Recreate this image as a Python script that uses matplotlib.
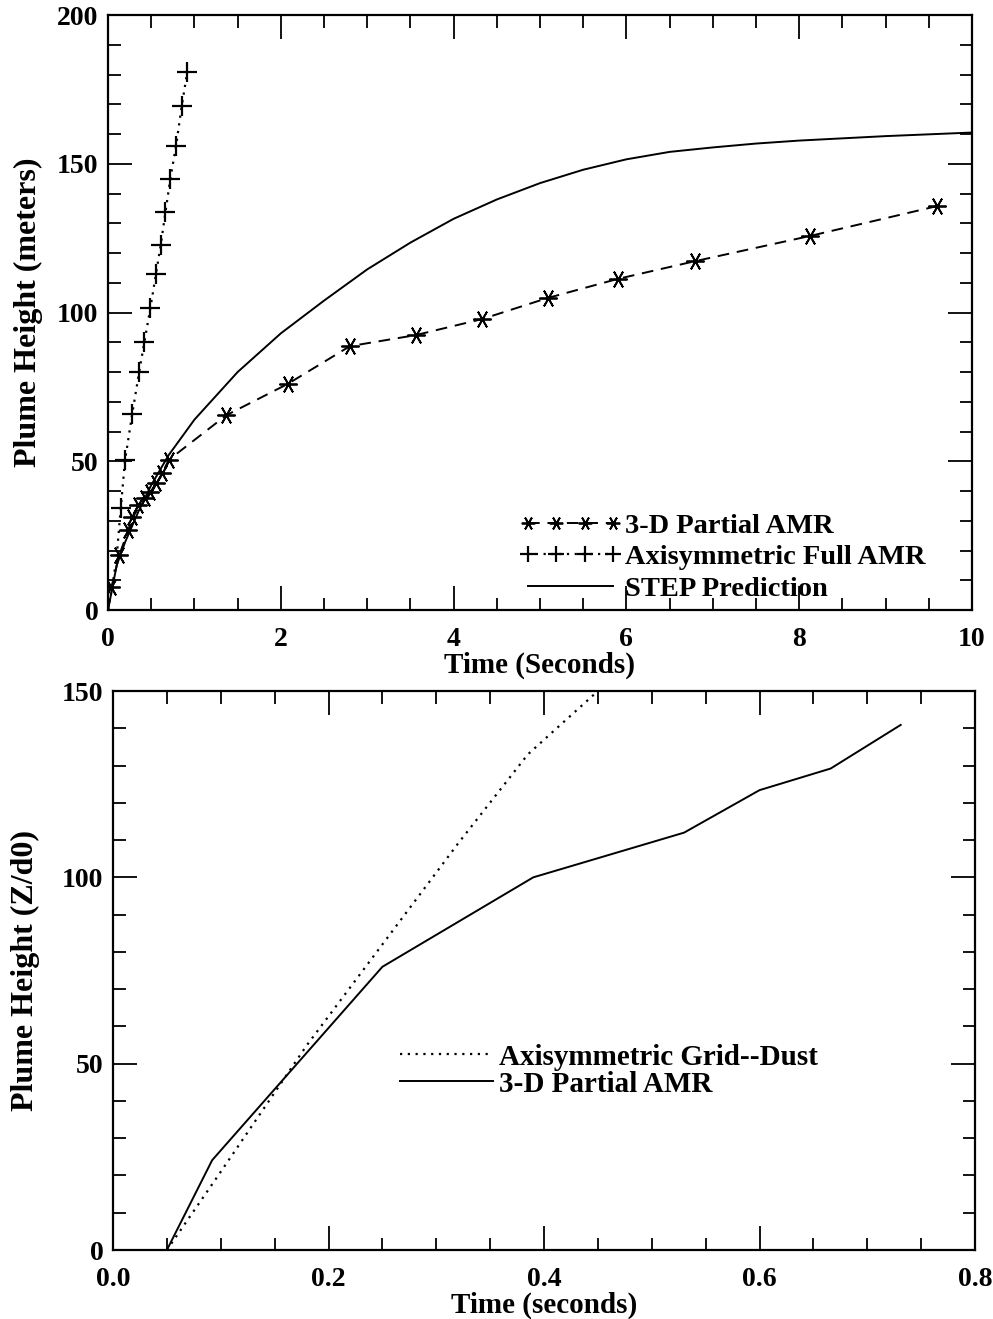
import matplotlib
matplotlib.use("Agg")
import matplotlib.pyplot as plt
from matplotlib.ticker import MultipleLocator, FormatStrFormatter

plt.rcParams['font.family'] = ['Liberation Serif', 'DejaVu Serif']
plt.rcParams['font.weight'] = 'bold'

# ---- Top panel data ----
amr3d_t = [0.0, 0.04, 0.13, 0.235, 0.28, 0.35, 0.43, 0.49, 0.56, 0.63, 0.70,
           1.37, 2.08, 2.80, 3.56, 4.33, 5.09, 5.90, 6.80, 8.12, 9.60]
amr3d_h = [0.0, 7.8, 18.5, 26.9, 31.2, 35.3, 37.5, 39.8, 42.6, 46.0, 50.4,
           65.5, 76.0, 88.7, 92.4, 97.8, 104.9, 111.3, 117.3, 125.7, 135.8]

axi_t = [0.0, 0.05, 0.10, 0.147, 0.197, 0.28, 0.36, 0.42, 0.49, 0.555,
         0.61, 0.665, 0.721, 0.787, 0.853, 0.918]
axi_h = [0.0, 8.0, 18.0, 34.2, 50.4, 65.9, 80.0, 90.0, 101.5, 113.0,
         122.7, 133.8, 145.0, 156.0, 169.4, 181.0]

step_t = [0.0, 0.1, 0.2, 0.35, 0.5, 0.7, 1.0, 1.25, 1.5, 1.75, 2.0, 2.5, 3.0,
          3.5, 4.0, 4.5, 5.0, 5.5, 6.0, 6.5, 7.0, 7.5, 8.0, 9.0, 10.0]
step_h = [0.0, 15, 23, 33, 42, 52, 64, 72, 80, 86.5, 93, 104, 114.5,
          123.5, 131.5, 138, 143.5, 148, 151.5, 154, 155.5, 156.8, 157.8, 159.3, 160.5]

# ---- Bottom panel data ----
dust_t = [0.05, 0.10, 0.18, 0.25, 0.32, 0.385, 0.45]
dust_h = [0.0, 21.0, 55.0, 82.0, 109.0, 133.0, 150.0]

amr_b_t = [0.05, 0.092, 0.25, 0.39, 0.53, 0.60, 0.666, 0.731]
amr_b_h = [0.0, 24.1, 76.0, 100.0, 112.0, 123.4, 129.2, 140.9]

fig = plt.figure(figsize=(9.93, 13.19), dpi=100)

ax1 = fig.add_axes([0.1088, 0.5375, 0.870, 0.4511])
ax2 = fig.add_axes([0.1138, 0.0523, 0.8681, 0.4238])

ast = (6, 2, 90)
ax1.plot(amr3d_t, amr3d_h, color='black', linestyle=(0, (6, 4)), lw=1.4,
         marker=ast, ms=13, mew=1.3, markevery=list(range(1, len(amr3d_t))),
         label='3-D Partial AMR')
ax1.plot(axi_t, axi_h, color='black', linestyle=(0, (1, 2.5)), lw=1.6,
         marker='+', ms=15, mew=1.6, markevery=list(range(3, len(axi_t))),
         label='Axisymmetric Full AMR')
ax1.plot(step_t, step_h, color='black', linestyle='-', lw=1.4,
         label='STEP Prediction')

ax1.set_xlim(0, 10)
ax1.set_ylim(0, 200)
ax1.xaxis.set_major_locator(MultipleLocator(2))
ax1.xaxis.set_minor_locator(MultipleLocator(0.5))
ax1.yaxis.set_major_locator(MultipleLocator(50))
ax1.yaxis.set_minor_locator(MultipleLocator(10))
ax1.set_xlabel('Time (Seconds)', fontsize=21, fontweight='bold', labelpad=0)
ax1.set_ylabel('Plume Height (meters)', fontsize=23, fontweight='bold', labelpad=10)
ax1.legend(loc='lower right', bbox_to_anchor=(0.969, -0.02), frameon=False,
           fontsize=20.5, handlelength=3.6, handletextpad=0.1,
           labelspacing=0.2, borderaxespad=0.3, numpoints=4,
           markerscale=0.75)

ax2.plot(dust_t, dust_h, color='black', linestyle=(0, (1, 2.5)), lw=1.6,
         label='Axisymmetric Grid--Dust')
ax2.plot(amr_b_t, amr_b_h, color='black', linestyle='-', lw=1.4,
         label='3-D Partial AMR')
ax2.set_xlim(0, 0.8)
ax2.set_ylim(0, 150)
ax2.xaxis.set_major_locator(MultipleLocator(0.2))
ax2.xaxis.set_minor_locator(MultipleLocator(0.05))
ax2.yaxis.set_major_locator(MultipleLocator(50))
ax2.yaxis.set_minor_locator(MultipleLocator(10))
ax2.xaxis.set_major_formatter(FormatStrFormatter('%.1f'))
ax2.set_xlabel('Time (seconds)', fontsize=21, fontweight='bold', labelpad=0)
ax2.set_ylabel('Plume Height (Z/d0)', fontsize=23, fontweight='bold', labelpad=16)
ax2.legend(loc='center left', bbox_to_anchor=(0.302, 0.321), frameon=False,
           fontsize=21, handlelength=3.2, handletextpad=0.2, labelspacing=0.0)

for ax in (ax1, ax2):
    for s in ax.spines.values():
        s.set_linewidth(1.6)
    ax.tick_params(which='both', direction='in', top=True, right=True,
                   labelsize=20, width=1.3)
    ax.tick_params(which='major', length=17)
    ax.tick_params(which='minor', length=9)
    ax.tick_params(axis='x', which='major', pad=12)
    ax.tick_params(axis='y', which='major', pad=7)
    for lbl in ax.get_xticklabels() + ax.get_yticklabels():
        lbl.set_fontweight('bold')

fig.savefig('out.png', dpi=100)
